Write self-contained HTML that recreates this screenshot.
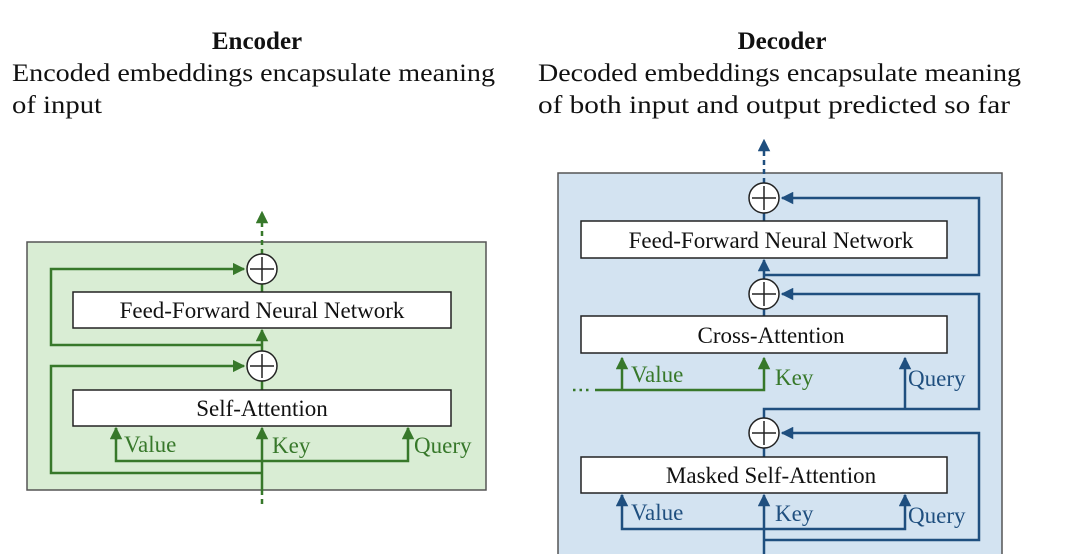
<!DOCTYPE html>
<html><head><meta charset="utf-8"><style>
html,body{margin:0;padding:0;background:#fff;}
svg{display:block;font-family:"Liberation Serif",serif;}
</style></head><body>
<svg width="1080" height="554" viewBox="0 0 1080 554" xmlns="http://www.w3.org/2000/svg">
<defs>
<marker id="ag" viewBox="0 0 10 10" refX="9" refY="5" markerWidth="5" markerHeight="5" orient="auto"><path d="M0,0 L10,5 L0,10 z" fill="#37782a"/></marker>
<marker id="ab" viewBox="0 0 10 10" refX="9" refY="5" markerWidth="5" markerHeight="5" orient="auto"><path d="M0,0 L10,5 L0,10 z" fill="#1f4f7f"/></marker>
</defs>
<!-- Titles -->
<text x="257" y="49" text-anchor="middle" font-size="25" font-weight="bold" fill="#111">Encoder</text>
<text x="12" y="81" font-size="25" fill="#111" textLength="483" lengthAdjust="spacingAndGlyphs">Encoded embeddings encapsulate meaning</text>
<text x="12" y="113" font-size="25" fill="#111" textLength="90" lengthAdjust="spacingAndGlyphs">of input</text>
<text x="782" y="49" text-anchor="middle" font-size="25" font-weight="bold" fill="#111">Decoder</text>
<text x="538" y="81" font-size="25" fill="#111" textLength="483" lengthAdjust="spacingAndGlyphs">Decoded embeddings encapsulate meaning</text>
<text x="538" y="113" font-size="25" fill="#111" textLength="472" lengthAdjust="spacingAndGlyphs">of both input and output predicted so far</text>

<!-- Encoder -->
<rect x="27" y="242" width="459" height="248" fill="#d9edd4" stroke="#555" stroke-width="1.5"/>
<g stroke="#37782a" stroke-width="2.5" fill="none">
<line x1="262" y1="254" x2="262" y2="212" stroke-dasharray="5,4" marker-end="url(#ag)"/>
<line x1="262" y1="292" x2="262" y2="284"/>
<line x1="262" y1="351" x2="262" y2="330" marker-end="url(#ag)"/>
<line x1="262" y1="390" x2="262" y2="381"/>
<polyline points="262,345 51,345 51,269 244,269" marker-end="url(#ag)"/>
<polyline points="262,473 51,473 51,366 244,366" marker-end="url(#ag)"/>
<line x1="262" y1="490" x2="262" y2="428" marker-end="url(#ag)"/>
<line x1="262" y1="490" x2="262" y2="508" stroke-dasharray="5,4"/>
<polyline points="116,428 116,461 408,461 408,428"/>
<line x1="116" y1="440" x2="116" y2="428" marker-end="url(#ag)"/>
<line x1="408" y1="440" x2="408" y2="428" marker-end="url(#ag)"/>
</g>
<g stroke="#222" stroke-width="1.5" fill="#fff">
<circle cx="262" cy="269" r="15"/><circle cx="262" cy="366" r="15"/>
<rect x="73" y="292" width="378" height="36"/><rect x="73" y="390" width="378" height="36"/>
</g>
<g stroke="#222" stroke-width="1.5"><path d="M250,269h24M262,257v24M250,366h24M262,354v24"/></g>
<text x="262" y="318" text-anchor="middle" font-size="23" fill="#111">Feed-Forward Neural Network</text>
<text x="262" y="416" text-anchor="middle" font-size="23" fill="#111">Self-Attention</text>
<g font-size="23" fill="#37782a">
<text x="124" y="452">Value</text><text x="272" y="453">Key</text><text x="414" y="453">Query</text>
</g>

<!-- Decoder -->
<rect x="558" y="173" width="444" height="384" fill="#d3e3f1" stroke="#555" stroke-width="1.5"/>
<g stroke="#1f4f7f" stroke-width="2.5" fill="none">
<line x1="764" y1="183" x2="764" y2="140" stroke-dasharray="5,4" marker-end="url(#ab)"/>
<line x1="764" y1="221" x2="764" y2="213"/>
<line x1="764" y1="279" x2="764" y2="260" marker-end="url(#ab)"/>
<line x1="764" y1="316" x2="764" y2="309"/>
<line x1="764" y1="457" x2="764" y2="448"/>
<polyline points="764,275 979,275 979,198 782,198" marker-end="url(#ab)"/>
<polyline points="764,418 764,409 979,409 979,294 782,294" marker-end="url(#ab)"/>
<line x1="905" y1="409" x2="905" y2="358" marker-end="url(#ab)"/>
<polyline points="764,540 979,540 979,433 782,433" marker-end="url(#ab)"/>
<line x1="764" y1="554" x2="764" y2="495" marker-end="url(#ab)"/>
<polyline points="622,495 622,529 905,529 905,495"/>
<line x1="622" y1="505" x2="622" y2="495" marker-end="url(#ab)"/>
<line x1="905" y1="505" x2="905" y2="495" marker-end="url(#ab)"/>
</g>
<g stroke="#37782a" stroke-width="2.5" fill="none">
<polyline points="595,390 764,390 764,358" marker-end="url(#ag)"/>
<line x1="622" y1="390" x2="622" y2="358" marker-end="url(#ag)"/>
<line x1="573" y1="390" x2="592" y2="390" stroke-dasharray="2.5,4"/>
</g>
<g stroke="#222" stroke-width="1.5" fill="#fff">
<circle cx="764" cy="198" r="15"/><circle cx="764" cy="294" r="15"/><circle cx="764" cy="433" r="15"/>
<rect x="581" y="221" width="366" height="37"/><rect x="581" y="316" width="366" height="37"/><rect x="581" y="457" width="366" height="36"/>
</g>
<g stroke="#222" stroke-width="1.5"><path d="M752,198h24M764,186v24M752,294h24M764,282v24M752,433h24M764,421v24"/></g>
<text x="771" y="248" text-anchor="middle" font-size="23" fill="#111">Feed-Forward Neural Network</text>
<text x="771" y="343" text-anchor="middle" font-size="23" fill="#111">Cross-Attention</text>
<text x="771" y="483" text-anchor="middle" font-size="23" fill="#111">Masked Self-Attention</text>
<g font-size="23" fill="#37782a"><text x="631" y="382">Value</text><text x="775" y="385">Key</text></g>
<g font-size="23" fill="#1f4f7f"><text x="908" y="386">Query</text>
<text x="631" y="520">Value</text><text x="775" y="521">Key</text><text x="908" y="523">Query</text></g>
</svg>
</body></html>
